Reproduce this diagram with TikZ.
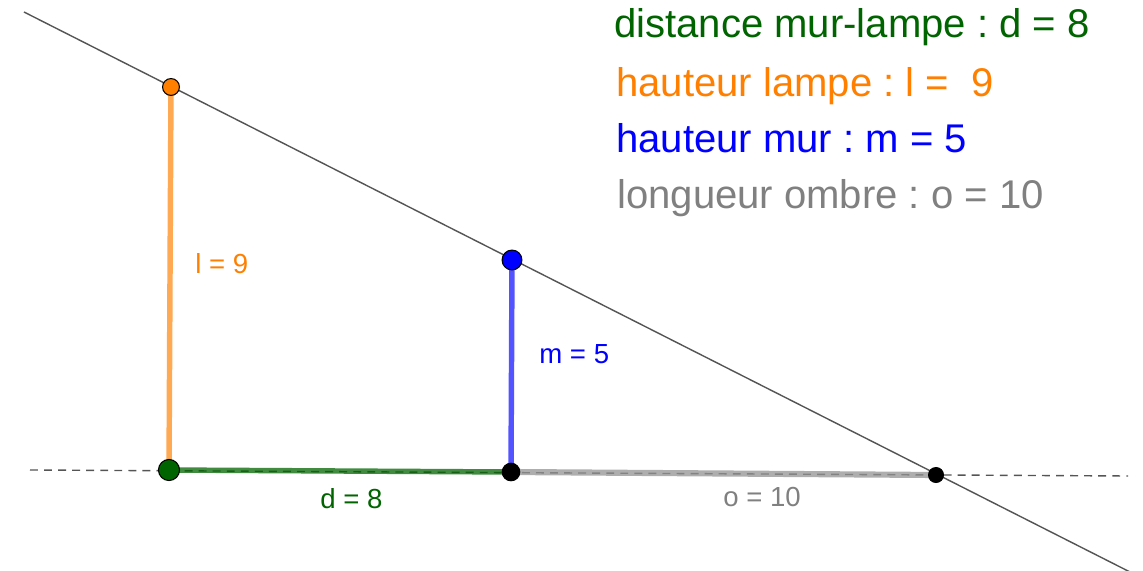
\documentclass[tikz,border=0pt]{standalone}
\usepackage{fontspec}
\setmainfont{Liberation Sans}
\frenchspacing
\definecolor{ggbgreen}{RGB}{0,100,0}
\definecolor{ggborange}{RGB}{255,127,0}
\definecolor{ggbblue}{RGB}{0,0,255}
\definecolor{ggbgray}{RGB}{128,128,128}
\definecolor{linegray}{RGB}{85,85,85}
\begin{document}
\begin{tikzpicture}[x=0.02cm,y=-0.02cm,
    dot/.style={circle,draw=black,line width=0.6pt,inner sep=0pt,minimum size=#1},
    seg/.style={line width=3.1pt,draw opacity=0.75},
    small/.style={font=\fontsize{15.7}{18}\selectfont,anchor=base west,inner sep=0pt},
    big/.style={font=\fontsize{22.8}{26}\selectfont,anchor=base west,inner sep=0pt}]
    \useasboundingbox (0,0) rectangle (1143,571);

    % points of the figure
    \coordinate (L) at (171,87);
    \coordinate (A) at (169,470);
    \coordinate (M) at (512,260);
    \coordinate (B) at (511,472);
    \coordinate (O) at (936,475);
    \coordinate (ray0) at (24,12);
    \coordinate (ray1) at (1130,572);
    \coordinate (sol0) at (30,470);
    \coordinate (sol1) at (1128,476);

    % ground and light ray
    \draw[linegray,line width=0.8pt,dash pattern=on 4.5pt off 3.5pt] (sol0)--(sol1);
    \draw[linegray,line width=0.8pt] (ray0)--(ray1);

    % segments
    \draw[seg,ggborange!90!white] (A)--(L);
    \draw[seg,ggbblue!90!white] (B)--(M);
    \draw[seg,ggbgreen] (A)--(B);
    \draw[seg,ggbgray!85!white,line width=3.5pt] (B)--(O);

    % dots
    \node[dot=9.6pt,fill=ggborange] (l) at (L) {};
    \node[dot=11.3pt,fill=ggbblue] (m) at (M) {};
    \node[dot=12pt,fill=ggbgreen] (a) at (A) {};
    \node[dot=10pt,fill=black] (b) at (B) {};
    \node[dot=8.5pt,fill=black] (o) at (O) {};

    % labels
    \node[small,text=ggborange] (lab-l) at (195,273) {l = 9};
    \node[small,text=ggbblue] (lab-m) at (539,363) {m = 5};
    \node[small,text=ggbgreen] (lab-d) at (320,508) {d = 8};
    \node[small,text=ggbgray] (lab-o) at (723,506) {o = 10};

    \node[big,text=ggbgreen] (txt-d) at (614,38) {distance mur-lampe : d = 8};
    \node[big,text=ggborange] (txt-l) at (616,97) {hauteur lampe : l = \ 9};
    \node[big,text=ggbblue] (txt-m) at (616,153) {hauteur mur : m = 5};
    \node[big,text=ggbgray] (txt-o) at (617,208) {longueur ombre : o = 10};
\end{tikzpicture}
\end{document}
